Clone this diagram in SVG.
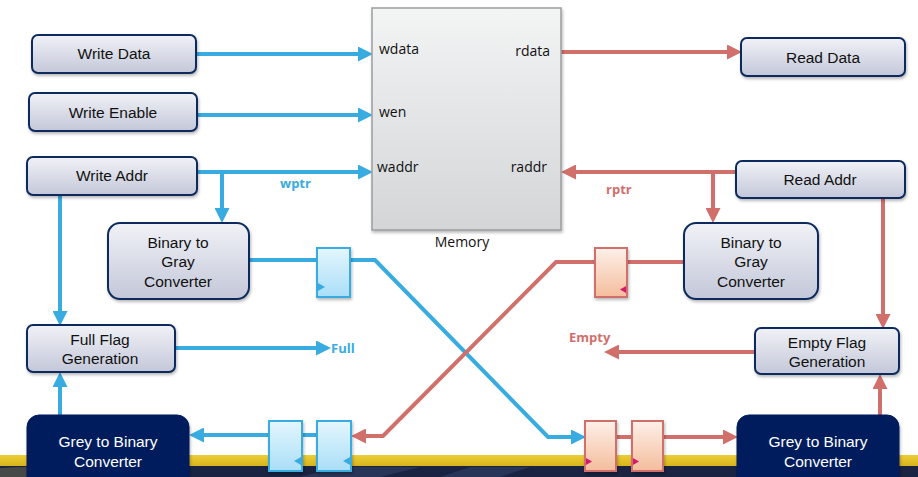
<svg xmlns="http://www.w3.org/2000/svg" width="918" height="477" viewBox="0 0 918 477">
  <defs>
    <linearGradient id="boxFill" x1="0" y1="0" x2="0" y2="1">
      <stop offset="0" stop-color="#f1f2f7"/>
      <stop offset="1" stop-color="#c3c7d8"/>
    </linearGradient>
    <linearGradient id="memFill" x1="0" y1="0" x2="0" y2="1">
      <stop offset="0" stop-color="#f3f4f4"/>
      <stop offset="1" stop-color="#d3d5d7"/>
    </linearGradient>
    <linearGradient id="regBlue" x1="0" y1="0" x2="0" y2="1">
      <stop offset="0" stop-color="#e4f6fe"/>
      <stop offset="1" stop-color="#a9def7"/>
    </linearGradient>
    <linearGradient id="regPink" x1="0" y1="0" x2="0" y2="1">
      <stop offset="0" stop-color="#fdf0e9"/>
      <stop offset="1" stop-color="#f4bd9c"/>
    </linearGradient>
    <linearGradient id="band" x1="0" y1="0" x2="0" y2="1">
      <stop offset="0" stop-color="#ecce36"/>
      <stop offset="1" stop-color="#d6b21a"/>
    </linearGradient>
    <filter id="shadow" x="-10%" y="-10%" width="125%" height="130%">
      <feDropShadow dx="1" dy="2" stdDeviation="1.8" flood-color="#000" flood-opacity="0.28"/>
    </filter>
    <marker id="arrowBlue" markerUnits="userSpaceOnUse" markerWidth="15" markerHeight="15" viewBox="0 0 15 15" refX="3" refY="7.5" orient="auto">
      <path d="M0,0 L15,7.5 L0,15 z" fill="#38ace0"/>
    </marker>
    <marker id="arrowRed" markerUnits="userSpaceOnUse" markerWidth="15" markerHeight="15" viewBox="0 0 15 15" refX="3" refY="7.5" orient="auto">
      <path d="M0,0 L15,7.5 L0,15 z" fill="#d16f6b"/>
    </marker>
    <style>
      .box { fill: url(#boxFill); stroke: #0d2b5f; stroke-width: 2; filter: url(#shadow); }
      .dark { fill: #051c5c; stroke: #051c5c; stroke-width: 1; filter: url(#shadow); }
      .lbl { font-family: "Liberation Sans", Arial, sans-serif; font-size: 15.5px; fill: #111; text-anchor: middle; }
      .lblw { font-family: "Liberation Sans", Arial, sans-serif; font-size: 15.5px; fill: #ffffff; text-anchor: middle; }
      .port { font-family: "Open Sans", "Liberation Sans", sans-serif; font-size: 14px; fill: #111; }
      .blue { fill: none; stroke: #38ace0; stroke-width: 4; }
      .red { fill: none; stroke: #d16f6b; stroke-width: 4; }
      .ab { marker-end: url(#arrowBlue); }
      .ar { marker-end: url(#arrowRed); }
      .sigB { font-family: "Open Sans", "Liberation Sans", sans-serif; font-size: 13px; font-weight: bold; fill: #38ace0; }
      .sigR { font-family: "Open Sans", "Liberation Sans", sans-serif; font-size: 13px; font-weight: bold; fill: #d16f6b; }
      .regB { fill: url(#regBlue); stroke: #38ace0; stroke-width: 2; filter: url(#shadow); }
      .regR { fill: url(#regPink); stroke: #d16f6b; stroke-width: 2; filter: url(#shadow); }
      .clkB { fill: #38ace0; }
      .clkR { fill: #d8186a; }
    </style>
  </defs>

  <rect width="918" height="477" fill="#ffffff"/>

  <!-- footer band -->
  <g id="footer">
    <rect x="0" y="455" width="918" height="12" fill="url(#band)"/>
    <rect x="0" y="466" width="918" height="11" fill="#1a2341"/>
    <path d="M0,468 Q40,465 80,470 L80,477 L0,477 z" fill="#5b5a4c" opacity="0.7"/>
    <path d="M300,477 L340,467 L420,467 L380,477 z" fill="#2d3a5e" opacity="0.8"/>
    <path d="M440,477 L470,467 L530,467 L500,477 z" fill="#2d3a5e" opacity="0.8"/>
  </g>

  <!-- connectors -->
  <g id="connectors">
    <!-- write side -->
    <path class="blue ab" d="M197,54 H361"/>
    <path class="blue ab" d="M197,115 H361"/>
    <path class="blue ab" d="M197,172 H361"/>
    <path class="blue ab" d="M222,172 V211"/>
    <path class="blue ab" d="M60,195 V314"/>
    <path class="blue ab" d="M60,415 V384"/>
    <path class="blue ab" d="M175,348 H319"/>
    <path class="blue ab" d="M249,260 H375 L548,437 H574"/>
    <path class="blue" d="M302,435 H318"/>
    <path class="blue ab" d="M269,435 H201"/>
    <!-- read side -->
    <path class="red ar" d="M561,52 H730"/>
    <path class="red ar" d="M736,172 H573"/>
    <path class="red ar" d="M713,172 V211"/>
    <path class="red ar" d="M883,198 V317"/>
    <path class="red ar" d="M880,415 V386"/>
    <path class="red ar" d="M755,352 H616"/>
    <path class="red ar" d="M684,262 H556 L383,436 H363"/>
    <path class="red" d="M616,437 H632"/>
    <path class="red ar" d="M663,437 H726"/>
    <text class="sigB" x="280" y="188">wptr</text>
    <text class="sigR" x="606" y="194">rptr</text>
    <text class="sigB" x="331" y="353">Full</text>
    <text class="sigR" x="569" y="342">Empty</text>
  </g>

  <g id="memory">
    <rect x="372" y="8" width="189" height="222" fill="url(#memFill)" stroke="#9b9d9f" stroke-width="1.5" filter="url(#shadow)"/>
    <text class="port" x="379" y="54">wdata</text>
    <text class="port" x="550" y="56" text-anchor="end">rdata</text>
    <text class="port" x="379" y="117">wen</text>
    <text class="port" x="377" y="172">waddr</text>
    <text class="port" x="547" y="172" text-anchor="end">raddr</text>
    <text class="port" x="462" y="247" text-anchor="middle">Memory</text>
  </g>

  <g id="write-data">
    <rect class="box" x="32" y="35" width="164" height="38" rx="6"/>
    <text class="lbl" x="114" y="59">Write Data</text>
  </g>
  <g id="write-enable">
    <rect class="box" x="29" y="93" width="168" height="38" rx="6"/>
    <text class="lbl" x="113" y="118">Write Enable</text>
  </g>
  <g id="write-addr">
    <rect class="box" x="27" y="157" width="170" height="38" rx="6"/>
    <text class="lbl" x="112" y="181">Write Addr</text>
  </g>
  <g id="read-data">
    <rect class="box" x="741" y="38" width="164" height="38" rx="6"/>
    <text class="lbl" x="823" y="63">Read Data</text>
  </g>
  <g id="read-addr">
    <rect class="box" x="736" y="161" width="169" height="37" rx="6"/>
    <text class="lbl" x="820" y="185">Read Addr</text>
  </g>

  <g id="bin2gray-write">
    <rect class="box" x="108" y="223" width="141" height="76" rx="12"/>
    <text class="lbl" x="178" y="248">Binary to</text>
    <text class="lbl" x="178" y="267">Gray</text>
    <text class="lbl" x="178" y="287">Converter</text>
  </g>
  <g id="bin2gray-read">
    <rect class="box" x="684" y="223" width="134" height="76" rx="12"/>
    <text class="lbl" x="751" y="248">Binary to</text>
    <text class="lbl" x="751" y="267">Gray</text>
    <text class="lbl" x="751" y="287">Converter</text>
  </g>

  <g id="full-flag">
    <rect class="box" x="27" y="325" width="148" height="47" rx="6"/>
    <text class="lbl" x="100" y="345">Full Flag</text>
    <text class="lbl" x="100" y="364">Generation</text>
  </g>
  <g id="empty-flag">
    <rect class="box" x="755" y="328" width="144" height="46" rx="6"/>
    <text class="lbl" x="827" y="348">Empty Flag</text>
    <text class="lbl" x="827" y="367">Generation</text>
  </g>

  <g id="gray2bin-write">
    <rect class="dark" x="27" y="415" width="162" height="80" rx="12"/>
    <text class="lblw" x="108" y="447">Grey to Binary</text>
    <text class="lblw" x="108" y="467">Converter</text>
  </g>
  <g id="gray2bin-read">
    <rect class="dark" x="737" y="415" width="162" height="80" rx="12"/>
    <text class="lblw" x="818" y="447">Grey to Binary</text>
    <text class="lblw" x="818" y="467">Converter</text>
  </g>

  <!-- pointer registers -->
  <g id="wptr-reg">
    <rect class="regB" x="317" y="248" width="33" height="49"/>
    <path class="clkB" d="M318,283 L325,287 L318,291 z"/>
  </g>
  <g id="rptr-reg">
    <rect class="regR" x="595" y="248" width="32" height="49"/>
    <path class="clkR" d="M626,286 L620,289.5 L626,293 z"/>
  </g>
  <g id="rptr-sync1">
    <rect class="regB" x="269" y="421" width="33" height="50"/>
    <path class="clkB" d="M301,457 L294,461 L301,465 z"/>
  </g>
  <g id="rptr-sync2">
    <rect class="regB" x="317" y="421" width="34" height="50"/>
    <path class="clkB" d="M350,457 L343,461 L350,465 z"/>
  </g>
  <g id="wptr-sync1">
    <rect class="regR" x="585" y="421" width="31" height="50"/>
    <path class="clkR" d="M586,458 L592,461.5 L586,465 z"/>
  </g>
  <g id="wptr-sync2">
    <rect class="regR" x="632" y="421" width="31" height="50"/>
    <path class="clkR" d="M633,458 L639,461.5 L633,465 z"/>
  </g>
</svg>
